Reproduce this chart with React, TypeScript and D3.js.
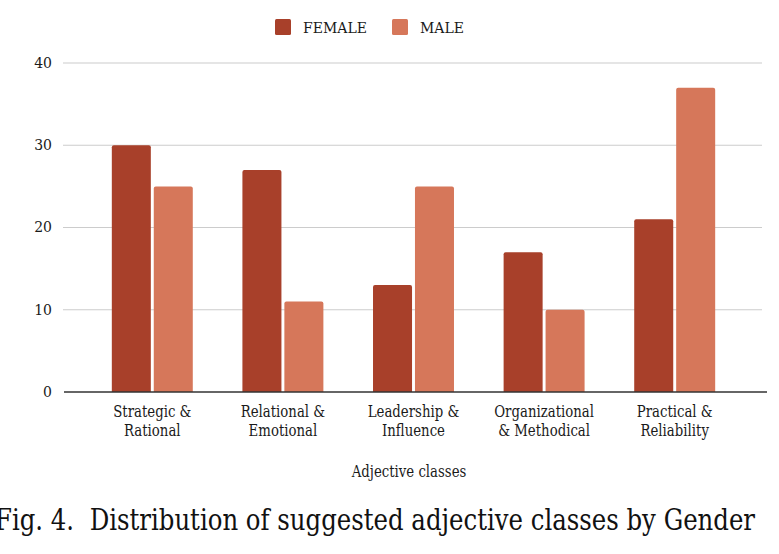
import { useRef, useEffect } from 'react';
import * as d3 from 'd3';

const categories = [
  ['Strategic &', 'Rational'],
  ['Relational &', 'Emotional'],
  ['Leadership &', 'Influence'],
  ['Organizational', '& Methodical'],
  ['Practical &', 'Reliability'],
];
const series = ['FEMALE', 'MALE'];
const female = [30, 27, 13, 17, 21];
const male = [25, 11, 25, 10, 37];
const yTicks = [0, 10, 20, 30, 40];
const colors = ['#a8402a', '#d6775a'];

export default function App() {
  const ref = useRef<SVGSVGElement>(null);

  useEffect(() => {
    if (!ref.current) return;
    const width = 779;
    const height = 554;
    const svg = d3.select(ref.current);
    svg.selectAll('*').remove();
    svg.attr('width', width).attr('height', height);

    const keys = categories.map((c) => c.join(' '));
    const x = d3
      .scaleBand()
      .domain(keys)
      .range([87, 740])
      .paddingInner(0.38)
      .paddingOuter(0.19);
    const x1 = d3.scaleBand().domain(series).range([0, x.bandwidth()]).paddingInner(0.07);
    const y = d3.scaleLinear().domain([0, 40]).range([392, 63]);

    const serif = "'DejaVu Serif', serif";
    const squeeze = 0.76; // labels in the figure are narrow

    // gridlines
    svg
      .append('g')
      .selectAll('line')
      .data(yTicks.filter((t) => t > 0))
      .join('line')
      .attr('x1', 63)
      .attr('x2', 762)
      .attr('y1', (d) => y(d))
      .attr('y2', (d) => y(d))
      .attr('stroke', '#cccccc')
      .attr('stroke-width', 1.2);

    // y tick labels
    svg
      .append('g')
      .selectAll('text')
      .data(yTicks)
      .join('text')
      .attr('x', 52)
      .attr('y', (d) => y(d))
      .attr('dy', '0.35em')
      .attr('text-anchor', 'end')
      .attr('font-family', serif)
      .attr('font-size', 14)
      .attr('fill', '#1a1a1a')
      .text((d) => d);

    const values = [female, male];
    const groups = svg
      .append('g')
      .selectAll('g')
      .data(keys)
      .join('g')
      .attr('transform', (d) => `translate(${x(d)},0)`);

    groups
      .selectAll('path')
      .data((_, i) => series.map((s, j) => ({ s, v: values[j][i], c: colors[j] })))
      .join('path')
      .attr('d', (d) => {
        const bx = x1(d.s) || 0;
        const bw = x1.bandwidth();
        const top = y(d.v);
        const r = 2;
        return `M${bx},${y(0)}V${top + r}Q${bx},${top} ${bx + r},${top}H${bx + bw - r}Q${bx + bw},${top} ${bx + bw},${top + r}V${y(0)}Z`;
      })
      .attr('fill', (d) => d.c);

    // baseline
    svg
      .append('line')
      .attr('x1', 64)
      .attr('x2', 767)
      .attr('y1', y(0))
      .attr('y2', y(0))
      .attr('stroke', '#333')
      .attr('stroke-width', 1.5);

    // category labels
    const labels = svg
      .append('g')
      .selectAll('text')
      .data(categories)
      .join('text')
      .attr(
        'transform',
        (_, i) => `translate(${(x(keys[i]) || 0) + x.bandwidth() / 2},417) scale(${squeeze},1)`
      )
      .attr('text-anchor', 'middle')
      .attr('font-family', serif)
      .attr('font-size', 17.5)
      .attr('fill', '#1a1a1a');
    labels
      .selectAll('tspan')
      .data((d) => d)
      .join('tspan')
      .attr('x', 0)
      .attr('dy', (_, i) => (i === 0 ? 0 : 19.5))
      .text((d) => d);

    // axis title
    svg
      .append('text')
      .attr('transform', `translate(409,477) scale(${squeeze},1)`)
      .attr('text-anchor', 'middle')
      .attr('font-family', serif)
      .attr('font-size', 17.5)
      .attr('fill', '#1a1a1a')
      .text('Adjective classes');

    // legend
    const legendX = [275, 392];
    const legend = svg
      .append('g')
      .selectAll('g')
      .data(series)
      .join('g')
      .attr('transform', (_, i) => `translate(${legendX[i]},19)`);
    legend
      .append('rect')
      .attr('width', 16)
      .attr('height', 16)
      .attr('rx', 1.5)
      .attr('fill', (_, i) => colors[i]);
    legend
      .append('text')
      .attr('x', 28)
      .attr('y', 14)
      .attr('font-family', serif)
      .attr('font-size', 14)
      .attr('fill', '#1a1a1a')
      .text((d) => d);

    // caption
    svg
      .append('text')
      .attr('x', -5)
      .attr('y', 530)
      .attr('font-family', serif)
      .attr('font-size', 30)
      .attr('textLength', 760)
      .attr('lengthAdjust', 'spacingAndGlyphs')
      .attr('fill', '#111')
      .attr('xml:space', 'preserve')
      .style('white-space', 'pre')
      .text('Fig. 4.  Distribution of suggested adjective classes by Gender');
  }, []);

  return <svg ref={ref} style={{ position: 'absolute', left: 0, top: 0 }}></svg>;
}
